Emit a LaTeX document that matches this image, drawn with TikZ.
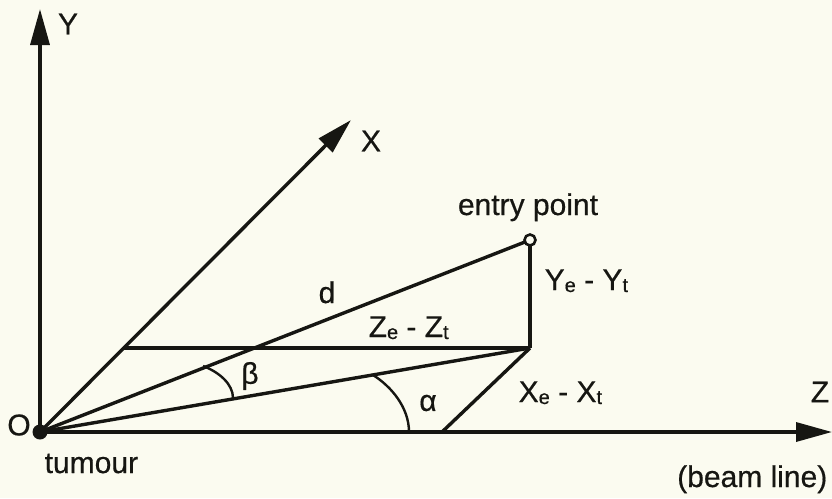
\documentclass[tikz,border=0pt]{standalone}
\usepackage{fontspec}
\setmainfont[FakeBold=0.5]{Liberation Sans}
\usetikzlibrary{arrows.meta}
\definecolor{paper}{RGB}{251,251,240}
\definecolor{ink}{RGB}{22,22,18}
\newcommand\lowsub[1]{\raisebox{-2pt}{\fontsize{20}{20}\selectfont #1}}
\begin{document}
\begin{tikzpicture}[x=1pt,y=-1pt,line width=3.4pt,draw=ink,
  lbl/.style={font=\fontsize{30}{30}\selectfont,inner sep=0pt,text=ink},
  axis/.style={-{Triangle[length=36pt,width=19pt]}},
  anglearc/.style={line width=2.4pt}]
\fill[paper] (0,0) rectangle (832,498);
\useasboundingbox (0,0) rectangle (832,498);
% points
\coordinate (O) at (40,432);
\coordinate (Ytip) at (40,9);
\coordinate (Xtip) at (351,120);
\coordinate (Ztip) at (832,432);
\coordinate (E) at (530,240);
\coordinate (P) at (530,348);
\coordinate (H) at (124,348);
\coordinate (F) at (442,432);
% axes
\draw[axis] (O) -- (Ytip);
\draw[axis] (O) -- (Xtip);
\draw[axis] (O) -- (Ztip);
% construction lines
\draw (O) -- (E);
\draw (O) -- (P);
\draw (H) -- (P);
\draw (P) -- (E);
\draw (P) -- (F);
% angle arcs
\coordinate (b1) at (203,366);
\coordinate (b2) at (233,398);
\draw[anglearc] (b1) .. controls (219,372) and (233,384) .. (b2);
\coordinate (a1) at (373,375);
\coordinate (a2) at (409,432);
\draw[anglearc] (a1) .. controls (392,387) and (409,408) .. (a2);
% points
\fill[ink] (O) circle (7.5);
\draw[line width=2.6pt,fill=paper] (E) circle (5.5);
% labels
\node[lbl] (lO) at (19,425) {O};
\node[lbl,anchor=base west] (ltum) at (43,473) {tumour};
\node[lbl] (lY) at (68,24) {Y};
\node[lbl] (lX) at (371,141) {X};
\node[lbl,anchor=base] (lent) at (528,215) {entry point};
\node[lbl,anchor=base west] (lyy) at (543,290) {Y\lowsub{e} - Y\lowsub{t}};
\node[lbl,anchor=base] (ld) at (327,303) {d};
\node[lbl,anchor=base west] (lzz) at (367,337) {Z\lowsub{e} - Z\lowsub{t}};
\node[lbl] (lb) at (250,376) {β};
\node[lbl] (la) at (428,403) {α};
\node[lbl,anchor=base west] (lxx) at (517,402) {X\lowsub{e} - X\lowsub{t}};
\node[lbl] (lZ) at (820,392) {Z};
\node[lbl,anchor=base east] (lbeam) at (829,487) {(beam line)};
\end{tikzpicture}
\end{document}
